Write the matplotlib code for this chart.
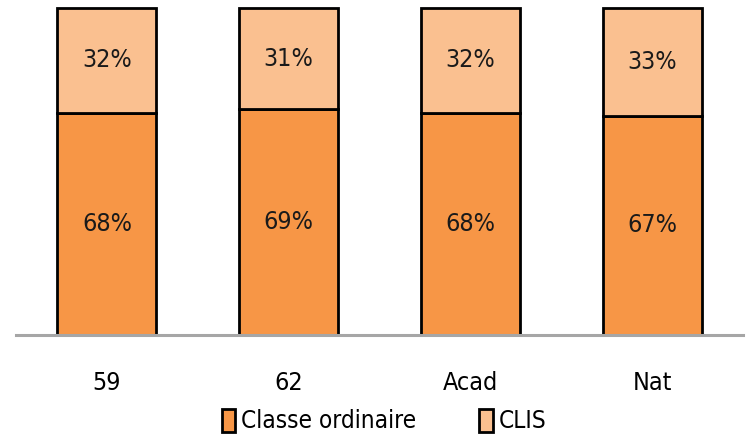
import numpy as np
import matplotlib.pyplot as plt
from matplotlib.patches import Patch

# Données
categories = ["59", "62", "Acad", "Nat"]
classe_ordinaire = [68, 69, 68, 67]
clis = [32, 31, 32, 33]

_ORANGE = "#F79646"
_ORANGE_CLAIR = "#FAC090"
_LW = 2.0

plt.rcParams["font.family"] = ["DejaVu Sans"]
plt.rcParams["font.stretch"] = "condensed"

fig = plt.figure(figsize=(7.47, 4.40), dpi=100)
ax = fig.add_axes([16 / 747, 1 - 335 / 440, 727 / 747, 327 / 440])

x = np.arange(len(categories))
largeur = 0.545
ax.bar(x, classe_ordinaire, largeur, color=_ORANGE, edgecolor="black", lw=_LW)
ax.bar(x, clis, largeur, bottom=classe_ordinaire, color=_ORANGE_CLAIR,
       edgecolor="black", lw=_LW, clip_on=False)

for i in range(len(categories)):
    ax.text(x[i], classe_ordinaire[i] / 2, f"{classe_ordinaire[i]}%",
            ha="center", va="center", fontsize=18, color="#1a1a1a")
    ax.text(x[i], classe_ordinaire[i] + clis[i] / 2, f"{clis[i]}%",
            ha="center", va="center", fontsize=18, color="#1a1a1a")

ax.set_xlim(-0.5, len(categories) - 0.5)
ax.set_ylim(0, 100)
ax.set_xticks(x)
ax.set_xticklabels(categories, fontsize=18)
ax.tick_params(axis="x", length=0, pad=26)
ax.set_yticks([])
for s in ["top", "right", "left"]:
    ax.spines[s].set_visible(False)
ax.spines["bottom"].set_color("#A6A6A6")
ax.spines["bottom"].set_linewidth(2.2)
ax.spines["bottom"].set_zorder(5)

handles = [Patch(facecolor=_ORANGE, edgecolor="black", lw=_LW),
           Patch(facecolor=_ORANGE_CLAIR, edgecolor="black", lw=_LW)]
fig.legend(handles, ["Classe ordinaire", "CLIS"], loc="center",
           bbox_to_anchor=(384 / 747, 1 - 421 / 440), ncol=2, frameon=False,
           fontsize=17.5, handlelength=0.55, handleheight=1.1, handletextpad=0.25,
           columnspacing=2.6)

fig.savefig("out.png", dpi=100)
